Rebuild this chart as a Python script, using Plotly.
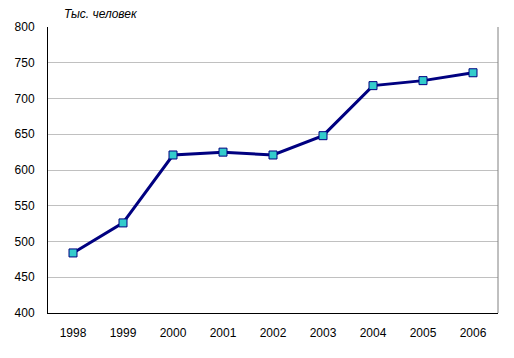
import plotly.graph_objects as go

years = ["1998", "1999", "2000", "2001", "2002", "2003", "2004", "2005", "2006"]
values = [484, 526, 621, 625, 621, 648, 718, 725, 736]
y_ticks = [400, 450, 500, 550, 600, 650, 700, 750, 800]

fig = go.Figure()
fig.add_trace(go.Scatter(
    x=years, y=values, mode="lines+markers",
    line=dict(color="#000080", width=3),
    marker=dict(symbol="square", size=8, color="#33CCCC",
                line=dict(color="#000080", width=1)),
    showlegend=False,
))

# page body adds an 8px offset; figure sized to fit window
fig.update_layout(
    width=506, height=350,
    margin=dict(l=40, r=16, t=19, b=45, autoexpand=False),
    paper_bgcolor="white", plot_bgcolor="white",
    font=dict(family="Liberation Sans, Arial, sans-serif", size=12, color="black"),
    xaxis=dict(type="category", range=[-0.5, 8.5], showgrid=False,
               showline=True, linecolor="black", linewidth=1, automargin=False,
               ticks="", ticklabelstandoff=9, zeroline=False),
    yaxis=dict(range=[400, 800], tickvals=y_ticks, showgrid=True,
               gridcolor="#C0C0C0", gridwidth=1, automargin=False,
               showline=True, linecolor="black", linewidth=1,
               ticks="", ticklabelstandoff=10, zeroline=False),
)
fig.add_annotation(text="<i>Тыс. человек</i>", xref="paper", yref="paper",
                   x=(62 - 48) / 450, y=1 + (27 - 14) / 286,
                   xanchor="left", yanchor="middle", showarrow=False,
                   font=dict(size=12))
fig.add_shape(type="line", xref="paper", yref="paper", x0=1, x1=1, y0=0, y1=1,
              line=dict(color="#808080", width=1))

fig.write_html("out.html")
